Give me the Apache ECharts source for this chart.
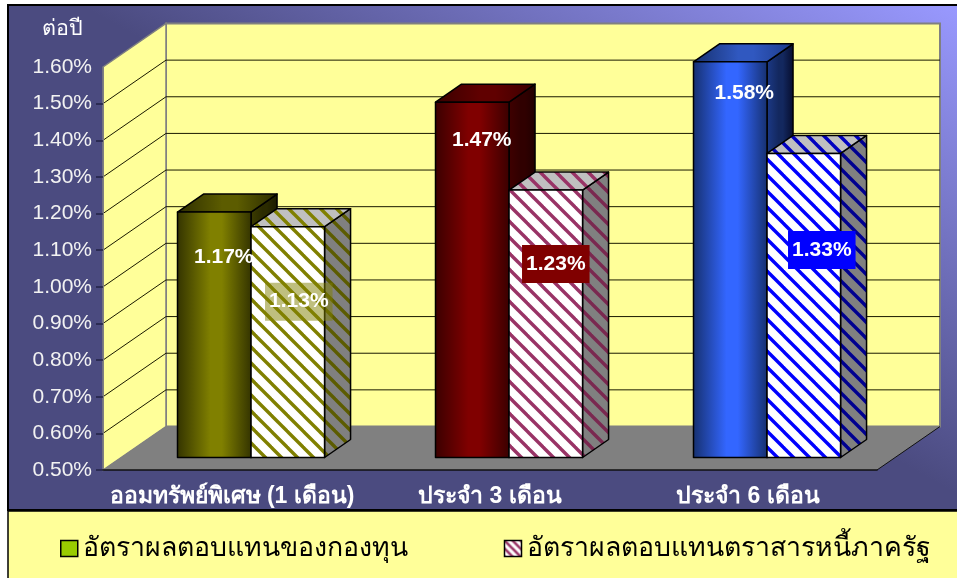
<!DOCTYPE html>
<html>
<head>
<meta charset="utf-8">
<style>html,body{margin:0;padding:0;background:#fff}#c{width:957px;height:578px}</style>
<script src="https://cdn.jsdelivr.net/npm/echarts@6/dist/echarts.min.js"></script>
</head>
<body>
<div id="c"></div>
<script>
const categories = ['ออมทรัพย์พิเศษ (1 เดือน)', 'ประจำ 3 เดือน', 'ประจำ 6 เดือน'];
const fundReturn = [1.17, 1.47, 1.58];
const bondReturn = [1.13, 1.23, 1.33];
const seriesNames = ['อัตราผลตอบแทนของกองทุน', 'อัตราผลตอบแทนตราสารหนี้ภาครัฐ'];
const gridTicks = [0.5, 0.6, 0.7, 0.8, 0.9, 1.0, 1.1, 1.2, 1.3, 1.4, 1.5];
const yMin = 0.5, yMax = 1.6;

const FONT = '"Liberation Sans", Arial, "Noto Sans", sans-serif';
const WALL = [63, -43.5], BAR_FRONT = [18, -12.5], BAR_DEPTH = [26, -18];
const BAR_START = 0.219, BAR_W = 0.285;
const LG = echarts.graphic.LinearGradient;

function stripes(bg, fg, period, width) {
  const c = document.createElement('canvas');
  c.width = c.height = period;
  const x = c.getContext('2d');
  x.fillStyle = bg; x.fillRect(0, 0, period, period);
  x.strokeStyle = fg; x.lineWidth = width;
  for (const o of [-period, 0, period]) {
    x.beginPath(); x.moveTo(o - 2, -2); x.lineTo(o + period + 2, period + 2); x.stroke();
  }
  return { image: c, repeat: 'repeat' };
}
function hGrad(a, b, c) {
  return new LG(0, 0, 1, 0, [{offset: 0, color: a}, {offset: 0.45, color: b}, {offset: 0.6, color: b}, {offset: 1, color: c}]);
}
const solidStyle = [
  { front: hGrad('#333300', '#808000', '#333300'), top: hGrad('#2e2e00', '#5c5c00', '#2a2a00'), side: hGrad('#3d3d00', '#2b2b00', '#1a1a00') },
  { front: hGrad('#3a0000', '#800000', '#3a0000'), top: hGrad('#3a0000', '#600000', '#3a0000'), side: hGrad('#400000', '#300000', '#200000') },
  { front: hGrad('#16306e', '#3366ff', '#16306e'), top: hGrad('#16306e', '#3058c0', '#1c3a88'), side: hGrad('#1c3a88', '#13285f', '#060c2c') }
];
const hatchStyle = [
  { front: stripes('#ffffff', '#808000', 16, 3.4), top: stripes('#c0c0c0', '#808000', 16, 3.4), side: stripes('#808080', '#5c5c00', 16, 3.4), box: 'rgba(128,128,0,0.5)' },
  { front: stripes('#ffffff', '#993366', 16, 3.4), top: stripes('#c0c0c0', '#993366', 16, 3.4), side: stripes('#808080', '#7a2850', 16, 3.4), box: '#800000' },
  { front: stripes('#ffffff', '#0000ff', 16, 3.4), top: stripes('#c0c0c0', '#0000c0', 16, 3.4), side: stripes('#808080', '#000090', 16, 3.4), box: '#0000ff' }
];
// hand-placed data-label offsets from the centre-top of each front face
const labelOffset = [
  [[9.5, 45], [9.5, 38], [14, 31]],
  [[11, 75], [10, 74], [18, 96.5]]
];

function plane(api) {
  const band = api.size([1, 0])[0];
  const p0 = api.coord([0, yMin]), p1 = api.coord([0, yMax]);
  const x0 = p0[0] - band / 2, x1 = x0 + band * categories.length;
  return { band, x0, x1, y0: p0[1], y1: p1[1] };
}

function renderWalls(params, api) {
  const p = plane(api), dx = WALL[0], dy = WALL[1];
  return { type: 'group', children: [
    { type: 'polygon', shape: { points: [[p.x0 + dx, p.y1 + dy], [p.x1 + dx, p.y1 + dy], [p.x1 + dx, p.y0 + dy], [p.x0 + dx, p.y0 + dy]] }, style: { fill: '#ffff99', stroke: '#808080', lineWidth: 2 } },
    { type: 'polygon', shape: { points: [[p.x0, p.y1], [p.x0 + dx, p.y1 + dy], [p.x0 + dx, p.y0 + dy], [p.x0, p.y0]] }, style: { fill: '#ffff99', stroke: '#808080', lineWidth: 1.5 } },
    { type: 'polygon', shape: { points: [[p.x0, p.y0], [p.x0 + dx, p.y0 + dy], [p.x1 + dx, p.y0 + dy], [p.x1, p.y0]] }, style: { fill: '#808080' } },
    { type: 'line', shape: { x1: p.x1, y1: p.y0, x2: p.x1 + dx, y2: p.y0 + dy }, style: { stroke: '#111', lineWidth: 1 } }
  ]};
}
function renderGrid(params, api) {
  const p = plane(api), y = api.coord([0, api.value(1)])[1], dx = WALL[0], dy = WALL[1];
  return { type: 'polyline', shape: { points: [[p.x0, y], [p.x0 + dx, y + dy], [p.x1 + dx, y + dy]] }, style: { fill: 'none', stroke: '#1a1a00', lineWidth: 1 } };
}
function barBox(api, seriesIdx) {
  const i = api.value(0), p = plane(api);
  const left = p.x0 + p.band * (i + BAR_START + seriesIdx * BAR_W) + BAR_FRONT[0];
  const right = left + p.band * BAR_W;
  const top = api.coord([i, api.value(1)])[1] + BAR_FRONT[1];
  const bottom = p.y0 + BAR_FRONT[1];
  return { i, left, right, top, bottom };
}
function makeRender(seriesIdx, styles) {
  return function (params, api) {
    const b = barBox(api, seriesIdx), s = styles[b.i], dx = BAR_DEPTH[0], dy = BAR_DEPTH[1];
    const edge = { stroke: '#000', lineWidth: 1.5, lineJoin: 'round' };
    return { type: 'group', children: [
      { type: 'polygon', shape: { points: [[b.right, b.top], [b.right + dx, b.top + dy], [b.right + dx, b.bottom + dy], [b.right, b.bottom]] }, style: Object.assign({ fill: s.side }, edge) },
      { type: 'polygon', shape: { points: [[b.left, b.top], [b.left + dx, b.top + dy], [b.right + dx, b.top + dy], [b.right, b.top]] }, style: Object.assign({ fill: s.top }, edge) },
      { type: 'polygon', shape: { points: [[b.left, b.top], [b.right, b.top], [b.right, b.bottom], [b.left, b.bottom]] }, style: Object.assign({ fill: s.front }, edge) }
    ]};
  };
}
function renderLabel(params, api) {
  const seriesIdx = api.value(2), b = barBox(api, seriesIdx);
  const off = labelOffset[seriesIdx][b.i];
  const box = seriesIdx === 1 ? hatchStyle[b.i].box : null;
  return { type: 'text', x: (b.left + b.right) / 2 + off[0], y: b.top + off[1], style: {
    text: api.value(1).toFixed(2) + '%', fill: '#fff', font: 'bold 21px ' + FONT, align: 'center', verticalAlign: 'middle',
    lineHeight: 24, backgroundColor: box, padding: box ? [7, 4] : 0
  }};
}

const chart = echarts.init(document.getElementById('c'), null, { renderer: 'canvas' });
chart.setOption({
  animation: false,
  graphic: [
    { type: 'rect', z: -10, shape: { x: 8, y: 5, width: 960, height: 505 }, style: { stroke: '#000', lineWidth: 2,
      fill: new LG(80, 5, 288, -368, [{offset: 0, color: '#4b4b80'}, {offset: 1, color: '#9999ff'}], true) } },
    { type: 'rect', z: -10, shape: { x: 8, y: 511, width: 960, height: 80 }, style: { fill: '#ffff99', stroke: '#000', lineWidth: 1.5 } }
  ],
  legend: {
    left: 55, top: 530, itemWidth: 17, itemHeight: 16, itemGap: 96, selectedMode: false, icon: 'rect',
    textStyle: { fontSize: 26.7, color: '#000', fontFamily: FONT },
    data: [
      { name: seriesNames[0], itemStyle: { color: '#99cc00', borderColor: '#000', borderWidth: 1.5 } },
      { name: seriesNames[1], itemStyle: { color: stripes('#ffffff', '#993366', 8, 2.6), borderColor: '#000', borderWidth: 1.5 } }
    ]
  },
  grid: { left: 103, right: 80, top: 67, bottom: 108 },
  xAxis: {
    type: 'category', data: categories, z: 10,
    axisLine: { lineStyle: { color: '#111', width: 1.5 } },
    axisTick: { length: 6, lineStyle: { color: '#111', width: 1 } },
    axisLabel: { color: '#fff', fontWeight: 'bold', fontSize: 23, margin: 15, fontFamily: FONT, interval: 0 }
  },
  yAxis: {
    type: 'value', min: yMin, max: yMax, interval: 0.1, splitLine: { show: false }, z: 10,
    name: 'ต่อปี', nameLocation: 'end', nameGap: 27,
    nameTextStyle: { color: '#fff', fontSize: 21.5, fontFamily: FONT, align: 'right', padding: [0, 20, 0, 0] },
    axisLine: { show: true, lineStyle: { color: '#808080', width: 1 } },
    axisTick: { show: true, length: 7, customValues: gridTicks, lineStyle: { color: '#222244', width: 1.5 } },
    axisLabel: { color: '#f2f2f2', fontSize: 21, margin: 11, fontFamily: FONT, formatter: v => v.toFixed(2) + '%' }
  },
  series: [
    { type: 'custom', name: 'walls', silent: true, z: 1, renderItem: renderWalls, data: [[0, yMin]], encode: { x: 0, y: 1 } },
    { type: 'custom', name: 'grid', silent: true, z: 2, renderItem: renderGrid, data: gridTicks.slice(1).map(v => [0, v]), encode: { x: 0, y: 1 } },
    { type: 'custom', name: seriesNames[0], z: 3, renderItem: makeRender(0, solidStyle), data: fundReturn.map((v, i) => [i, v]), encode: { x: 0, y: 1 } },
    { type: 'custom', name: seriesNames[1], z: 4, renderItem: makeRender(1, hatchStyle), data: bondReturn.map((v, i) => [i, v]), encode: { x: 0, y: 1 } },
    { type: 'custom', name: 'labels', silent: true, z: 5, renderItem: renderLabel,
      data: fundReturn.map((v, i) => [i, v, 0]).concat(bondReturn.map((v, i) => [i, v, 1])), encode: { x: 0, y: 1 } }
  ]
});
</script>
</body>
</html>
